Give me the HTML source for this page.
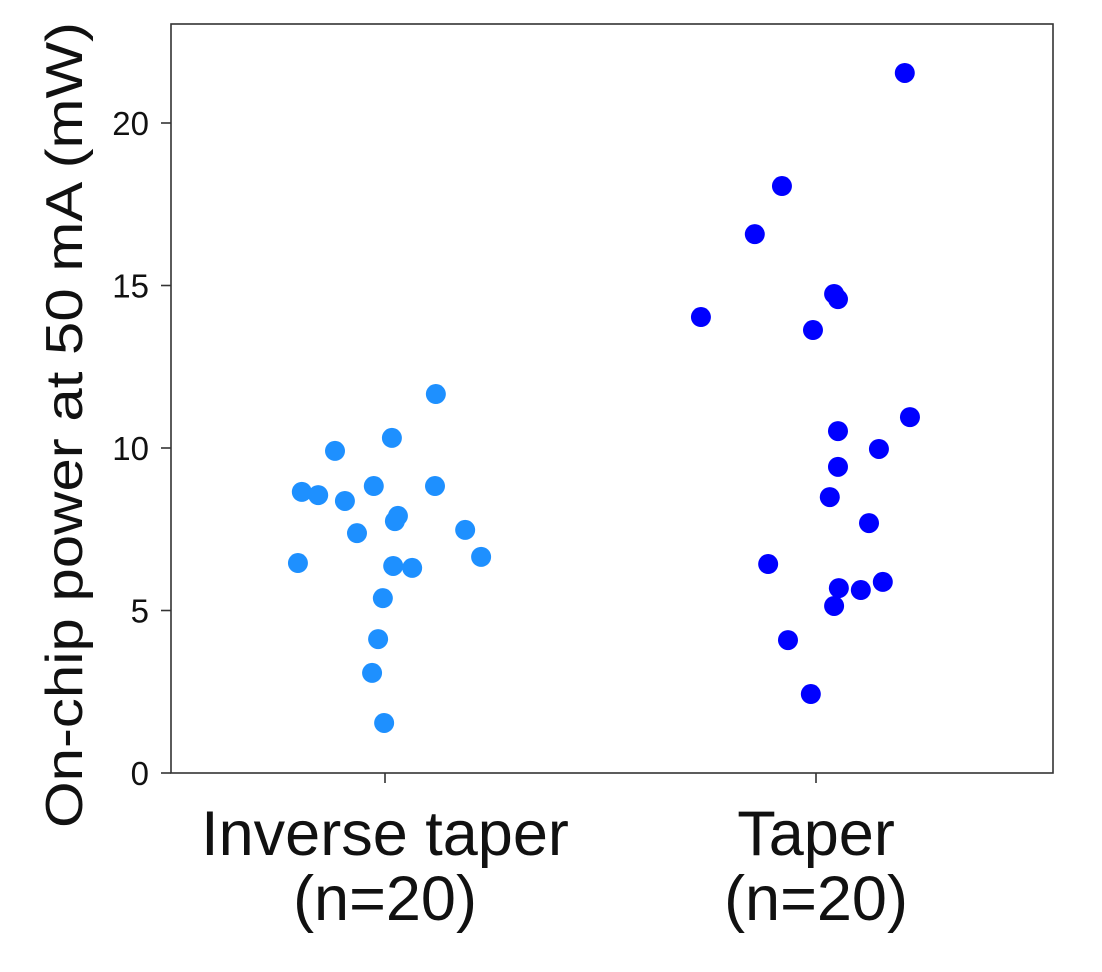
<!DOCTYPE html>
<html><head><meta charset="utf-8"><style>
html,body{margin:0;padding:0;background:#fff;}
svg{display:block;font-family:"Liberation Sans",Arial,sans-serif;}
</style></head><body>
<svg id="chart" width="1102" height="972">
</svg>
<script>
const categories = ["Inverse taper", "Taper"];
const categoryCounts = ["(n=20)", "(n=20)"];
const yTicks = [0, 5, 10, 15, 20];
const inverseValues = [6.46,8.65,8.55,9.91,8.37,7.38,8.83,10.31,7.91,7.75,6.37,6.31,11.66,8.83,7.48,6.65,5.38,4.12,3.08,1.54];
const inverseJitter = [-0.202,-0.193,-0.155,-0.116,-0.093,-0.065,-0.026,0.016,0.030,0.023,0.019,0.063,0.118,0.116,0.186,0.223,-0.005,-0.016,-0.030,-0.002];
const taperValues = [14.03,16.58,18.06,21.54,14.74,14.58,13.63,10.95,10.52,9.97,9.42,8.49,7.69,6.43,5.69,5.63,5.88,5.14,4.09,2.43];
const taperJitter = [-0.267,-0.142,-0.079,0.206,0.042,0.051,-0.007,0.218,0.051,0.146,0.051,0.032,0.123,-0.111,0.053,0.104,0.155,0.042,-0.065,-0.012];

const NS = "http://www.w3.org/2000/svg";
const svg = document.getElementById('chart');
const L = 171, R = 1053, T = 24, B = 773;
const yScale = v => B - v * 32.5;
const xScale = c => 385 + c * 431;
function mk(tag, attrs, parent) {
  const e = document.createElementNS(NS, tag);
  for (const k in attrs) e.setAttribute(k, attrs[k]);
  (parent || svg).appendChild(e);
  return e;
}
const frame = mk('rect', {x: L, y: T, width: R - L, height: B - T, fill: 'none', stroke: '#333', 'stroke-width': 1.6});



yTicks.forEach(v => {
  const y = yScale(v);
  const t = mk('line', {x1: L - 10, x2: L, y1: y, y2: y, stroke: '#333', 'stroke-width': 1.6});
  
  
  const lb = mk('text', {x: L - 22, y: y + 12, 'text-anchor': 'end', 'font-size': 33, fill: '#111'});
  lb.textContent = v;
  
  
});
categories.forEach((c, i) => {
  const x = xScale(i);
  const t = mk('line', {x1: x, x2: x, y1: B, y2: B + 10, stroke: '#333', 'stroke-width': 1.6});
  
  
  const lb = mk('text', {x: x, y: 855, 'text-anchor': 'middle', 'font-size': 63, fill: '#111'});
  lb.textContent = c;
  
  
  const n = mk('text', {x: x, y: 920, 'text-anchor': 'middle', 'font-size': 63, fill: '#111'});
  n.textContent = categoryCounts[i];
  
  
});
const yl = mk('text', {x: 0, y: 0, 'text-anchor': 'middle', 'font-size': 52, fill: '#111', transform: 'translate(82,425) rotate(-90)', textLength: 806, lengthAdjust: 'spacingAndGlyphs'});
yl.textContent = 'On-chip power at 50 mA (mW)';



function drawSeries(vals, jit, cat, color, name) {
  vals.forEach((v, i) => {
    const p = mk('circle', {cx: xScale(cat + jit[i]), cy: yScale(v), r: 10, fill: color});
    
    
  });
}
drawSeries(inverseValues, inverseJitter, 0, '#1e90ff', 'inverse-taper-point');
drawSeries(taperValues, taperJitter, 1, '#0000ff', 'taper-point');
</script>
</body></html>
